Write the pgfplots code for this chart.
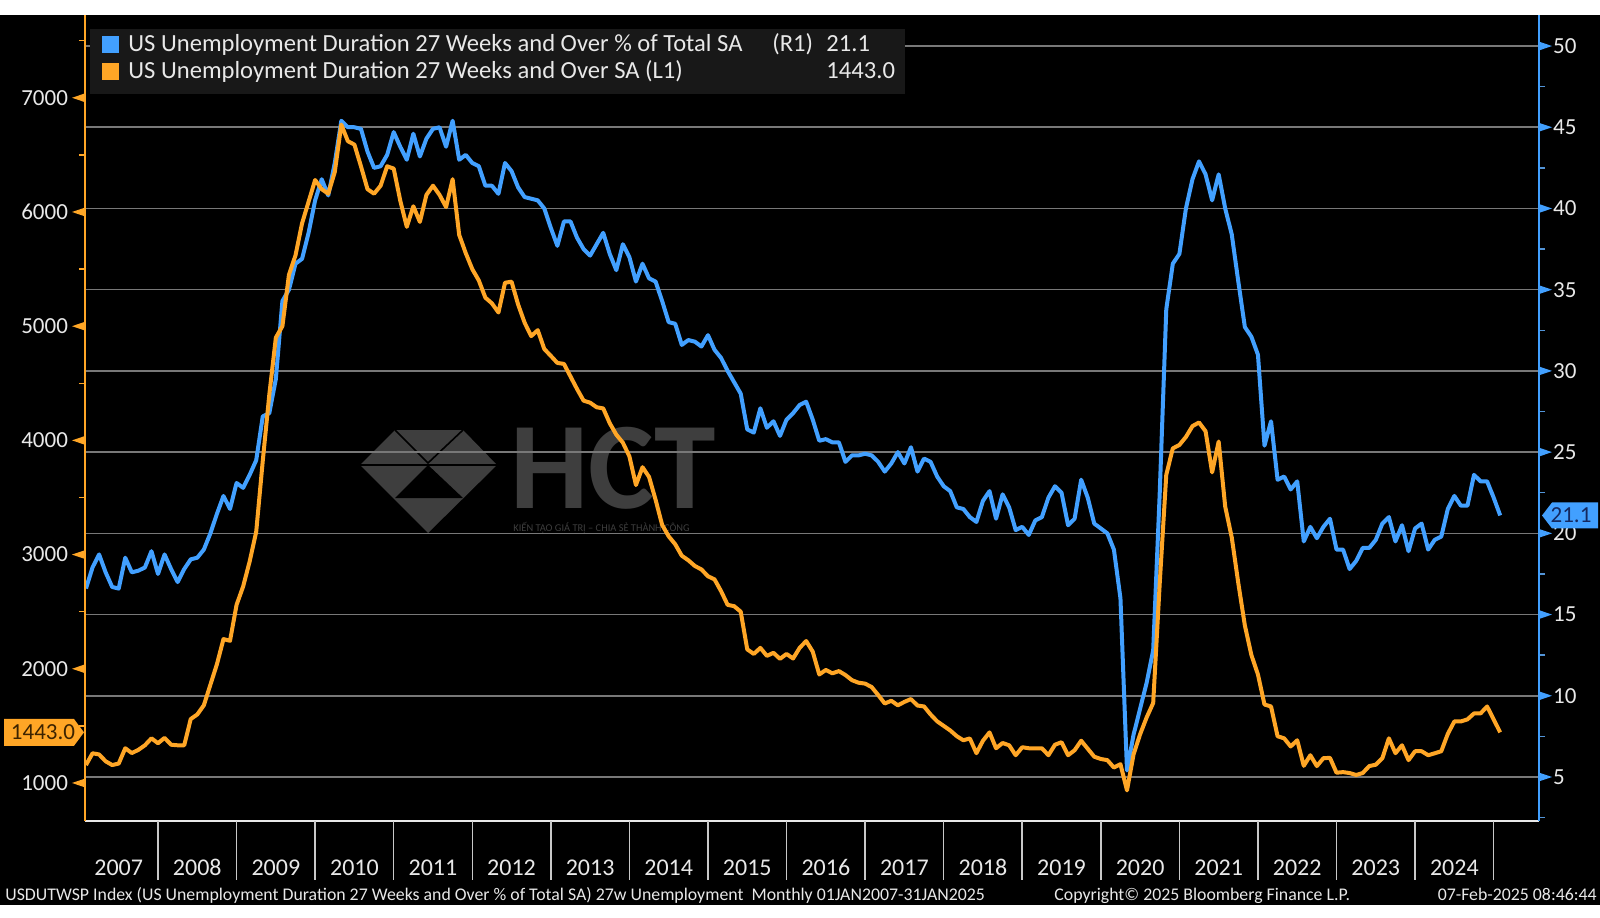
\documentclass[border=0pt]{standalone}
\usepackage{fontspec}
\setmainfont{Carlito}
\usepackage{pgfplots}
\usepackage{pgfplotstable}
\pgfplotsset{compat=1.18}

\definecolor{bbblue}{RGB}{66,160,255}
\definecolor{bborange}{RGB}{255,166,38}
\definecolor{bbgrid}{RGB}{120,120,120}
\definecolor{bbtext}{RGB}{232,232,232}
\definecolor{bbsep}{RGB}{200,200,200}
\definecolor{bblegbg}{RGB}{24,24,24}
\definecolor{bbwm}{RGB}{62,62,62}
\definecolor{tagblue}{RGB}{20,40,95}
\definecolor{tagorange}{RGB}{60,35,0}

\newcommand\fs[1]{\fontsize{#1}{#1}\selectfont}

% i = month index (0 = Jan 2007), pct = share of total (R1), lvl = thousands (L1)
\pgfplotstableread{
i pct lvl
0 16.6 1157
1 17.9 1260
2 18.7 1250
3 17.6 1190
4 16.7 1157
5 16.6 1170
6 18.5 1304
7 17.6 1262
8 17.7 1290
9 17.9 1330
10 18.9 1391
11 17.5 1348
12 18.7 1395
13 17.8 1335
14 17.0 1330
15 17.8 1330
16 18.4 1560
17 18.5 1600
18 19.0 1680
19 20.0 1860
20 21.2 2040
21 22.3 2260
22 21.5 2245
23 23.1 2560
24 22.8 2720
25 23.6 2940
26 24.5 3200
27 27.2 3820
28 27.4 4400
29 29.5 4900
30 34.3 5000
31 35.0 5450
32 36.6 5620
33 36.9 5900
34 38.5 6090
35 40.5 6280
36 41.8 6200
37 40.8 6160
38 42.8 6350
39 45.4 6765
40 45.0 6620
41 45.0 6590
42 44.9 6400
43 43.5 6200
44 42.5 6160
45 42.6 6230
46 43.3 6400
47 44.7 6380
48 43.8 6100
49 43.0 5870
50 44.6 6050
51 43.2 5913
52 44.3 6150
53 44.9 6230
54 45.0 6150
55 43.8 6043
56 45.4 6287
57 43.0 5800
58 43.3 5640
59 42.8 5500
60 42.6 5400
61 41.4 5250
62 41.4 5200
63 40.9 5120
64 42.8 5380
65 42.3 5390
66 41.3 5190
67 40.7 5030
68 40.6 4913
69 40.5 4965
70 40.0 4800
71 38.8 4740
72 37.7 4678
73 39.2 4670
74 39.2 4560
75 38.2 4450
76 37.5 4348
77 37.1 4330
78 37.8 4290
79 38.5 4280
80 37.2 4150
81 36.2 4050
82 37.8 3980
83 37.0 3860
84 35.5 3609
85 36.6 3765
86 35.7 3680
87 35.5 3480
88 34.3 3260
89 33.0 3160
90 32.9 3090
91 31.6 2990
92 31.9 2950
93 31.8 2900
94 31.5 2870
95 32.2 2810
96 31.3 2783
97 30.8 2680
98 30.0 2560
99 29.3 2548
100 28.6 2500
101 26.4 2170
102 26.2 2130
103 27.7 2183
104 26.5 2113
105 26.9 2140
106 26.0 2087
107 27.0 2130
108 27.4 2090
109 27.9 2183
110 28.1 2243
111 27.0 2150
112 25.7 1950
113 25.8 1990
114 25.6 1960
115 25.6 1980
116 24.4 1945
117 24.8 1900
118 24.8 1878
119 24.9 1870
120 24.8 1840
121 24.4 1770
122 23.8 1696
123 24.3 1720
124 25.0 1680
125 24.3 1710
126 25.3 1735
127 23.8 1678
128 24.6 1670
129 24.4 1600
130 23.5 1540
131 22.9 1500
132 22.6 1460
133 21.6 1410
134 21.5 1374
135 21.0 1390
136 20.7 1261
137 22.0 1370
138 22.6 1443
139 20.9 1304
140 22.4 1350
141 21.6 1330
142 20.2 1243
143 20.4 1313
144 19.9 1304
145 20.8 1304
146 21.0 1304
147 22.2 1243
148 22.9 1335
149 22.5 1357
150 20.5 1243
151 20.9 1287
152 23.3 1370
153 22.2 1300
154 20.6 1230
155 20.3 1210
156 20.0 1200
157 19.0 1135
158 16.0 1165
159 5.4 935
160 7.6 1250
161 9.2 1426
162 10.8 1574
163 12.8 1700
164 22.5 2750
165 33.8 3700
166 36.6 3930
167 37.2 3960
168 40.0 4030
169 41.8 4125
170 42.9 4157
171 42.1 4080
172 40.5 3720
173 42.1 3990
174 40.0 3420
175 38.4 3150
176 35.5 2750
177 32.7 2380
178 32.1 2120
179 31.0 1950
180 25.4 1687
181 26.9 1670
182 23.3 1409
183 23.5 1391
184 22.7 1320
185 23.2 1374
186 19.5 1150
187 20.4 1243
188 19.7 1148
189 20.4 1217
190 20.9 1220
191 19.0 1090
192 19.0 1095
193 17.8 1087
194 18.3 1070
195 19.1 1087
196 19.1 1148
197 19.6 1160
198 20.6 1217
199 21.0 1391
200 19.5 1261
201 20.5 1330
202 18.9 1200
203 20.3 1278
204 20.6 1278
205 19.0 1243
206 19.6 1260
207 19.8 1278
208 21.5 1430
209 22.3 1539
210 21.7 1539
211 21.7 1557
212 23.6 1609
213 23.2 1609
214 23.2 1670
215 22.2 1557
216 21.1 1443
}\unemp

\pgfplotsset{
  bbaxis/.style={
    at={(42.5pt,48pt)}, anchor=south west, scale only axis,
    width=727pt, height=403pt,
    xmin=-0.15, xmax=221.93,
    clip=false,
    major tick length=0pt, minor tick length=3pt, tick align=outside,
    ticklabel style={font=\fs{11.5}, text=bbtext},
    /pgf/number format/assume math mode=true,
    /pgf/number format/1000 sep={},
  },
}

\begin{document}
\begin{tikzpicture}
\begin{scope}[x=0.5pt,y=0.5pt]
  \fill[white] (0,0) rectangle (1600,917);
  \fill[black] (0,12) rectangle (1600,902);
  % watermark
  \fill[bbwm] (360,452) -- (395,487) -- (463,487) -- (497,452) -- (428,384) -- cycle;
  \draw[black, line width=0.8pt] (395,487) -- (428,454) -- (463,487);
  \draw[black, line width=0.8pt] (360,452) -- (497,452);
  \fill[black] (428,452) -- (395,419) -- (463,419) -- cycle;
  \node[bbwm, font=\fs{62}\bfseries, anchor=base west, inner sep=0pt] at (510,409) {HCT};
  \node[bbwm, font=\fs{5.2}, anchor=base west, inner sep=0pt] at (513,386) {KIẾN TẠO GIÁ TRỊ – CHIA SẺ THÀNH CÔNG};
\end{scope}

% right axis: share of total, with grid and year axis
\begin{axis}[bbaxis,
  ymin=2.29, ymax=51.91,
  axis x line*=bottom, axis y line*=right,
  x axis line style={draw=bbtext, line width=1pt, -},
  y axis line style={draw=bbblue, line width=1pt, -},
  xtick={5,17,29,41,53,65,77,89,101,113,125,137,149,161,173,185,197,209},
  xticklabels={2007,2008,2009,2010,2011,2012,2013,2014,2015,2016,2017,2018,2019,2020,2021,2022,2023,2024},
  xticklabel style={yshift=-15.5pt, font=\fs{12}, text height=8pt, text depth=0pt},
  ytick={5,10,...,50},
  minor ytick={2.5,7.5,...,47.5},
  yticklabel style={xshift=3.5pt},
  y tick style={draw=bbblue!70!bbgrid, line width=0.75pt},
  ymajorgrids, grid style={bbgrid, line width=0.75pt},
]
\pgfplotsinvokeforeach{11,23,...,215}{
  \draw[bbsep, line width=0.75pt] (axis cs:#1,2.29) -- ++(0pt,-29.5pt);
}
\pgfplotsinvokeforeach{5,10,...,50}{
  \fill[bbblue] (axis cs:221.93,#1) ++(0pt,2.2pt) -- ++(6.5pt,-2.2pt) -- ++(-6.5pt,-2.2pt) -- cycle;
}
\addplot[bbblue, line width=2pt, line join=round] table[x=i, y=pct] {\unemp};
\coordinate (btag) at (axis cs:221.93,21.1);
\end{axis}

% left axis: thousands of persons
\begin{axis}[bbaxis,
  ymin=667, ymax=7725,
  axis x line=none, axis y line*=left,
  xtick=\empty,
  y axis line style={draw=bborange, line width=1pt, -},
  ytick={1000,2000,...,7000},
  minor ytick={1500,2500,...,7500},
  yticklabel style={xshift=-5pt},
  y tick style={draw=bborange, line width=0.75pt},
]
\pgfplotsinvokeforeach{1000,2000,...,7000}{
  \fill[bborange] (axis cs:-0.15,#1) ++(0pt,2.2pt) -- ++(-6.5pt,-2.2pt) -- ++(6.5pt,-2.2pt) -- cycle;
}
\addplot[bborange, line width=2pt, line join=round] table[x=i, y=lvl] {\unemp};
\coordinate (otag) at (axis cs:-0.15,1443);
\end{axis}

% last-value tags
\fill[bbblue] (btag) ++(1.5pt,0pt) -- ++(5pt,6.5pt) -- ++(23pt,0pt) -- ++(0pt,-13pt) -- ++(-23pt,0pt) -- cycle;
\node[text=tagblue, font=\fs{11.5}] at ([xshift=16pt]btag) {21.1};
\fill[bborange] (otag) ++(-0.5pt,0pt) -- ++(-5pt,6.7pt) -- ++(-35pt,0pt) -- ++(0pt,-13.4pt) -- ++(35pt,0pt) -- cycle;
\node[text=tagorange, font=\fs{11.5}] at ([xshift=-21pt]otag) {1443.0};

\begin{scope}[x=0.5pt,y=0.5pt]
  % legend
  \fill[bblegbg] (90,823) rectangle (905,888);
  \fill[bbblue] (102,864) rectangle (119,881);
  \fill[bborange] (102,837) rectangle (119,854);
  \node[text=bbtext, font=\fs{12.3}, anchor=base west, inner sep=0pt] at (128,865) {US Unemployment Duration 27 Weeks and Over \% of Total SA};
  \node[text=bbtext, font=\fs{12.3}, anchor=base west, inner sep=0pt] at (772,865) {(R1)};
  \node[text=bbtext, font=\fs{12.3}, anchor=base west, inner sep=0pt] at (826,865) {21.1};
  \node[text=bbtext, font=\fs{12.3}, anchor=base west, inner sep=0pt] at (128,838) {US Unemployment Duration 27 Weeks and Over SA (L1)};
  \node[text=bbtext, font=\fs{12.3}, anchor=base west, inner sep=0pt] at (826,838) {1443.0};
  % footer
  \node[text=bbtext, font=\fs{8.9}, anchor=base west, inner sep=0pt] at (5,17) {USDUTWSP Index (US Unemployment Duration 27 Weeks and Over \% of Total SA) 27w Unemployment\ \ Monthly 01JAN2007-31JAN2025};
  \node[text=bbtext, font=\fs{8.9}, anchor=base west, inner sep=0pt] at (1054,17) {Copyright© 2025 Bloomberg Finance L.P.};
  \node[text=bbtext, font=\fs{8.9}, anchor=base east, inner sep=0pt] at (1597,17) {07-Feb-2025 08:46:44};
\end{scope}
\end{tikzpicture}
\end{document}
